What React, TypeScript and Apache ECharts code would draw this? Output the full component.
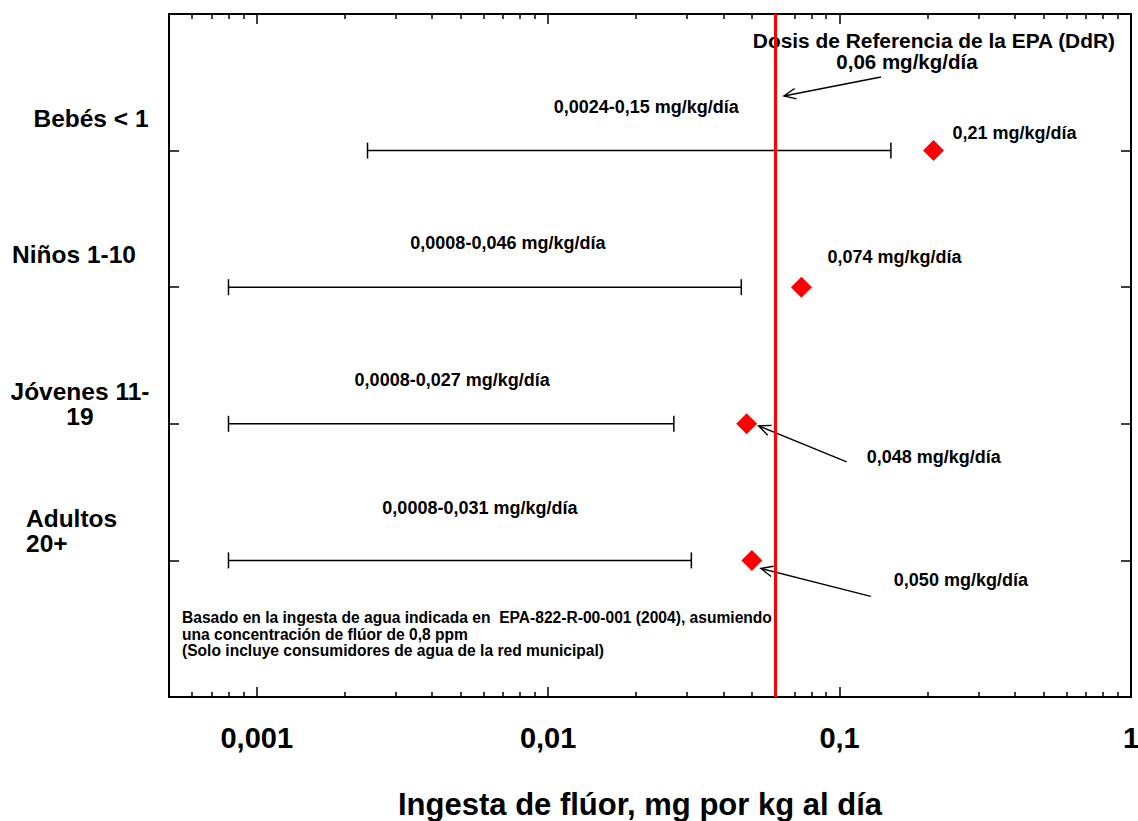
import React, { useEffect, useRef } from 'react';
import * as echarts from 'echarts';

// ---------- data ----------
const categories = ['Bebés < 1', 'Niños 1-10', 'Jóvenes 11-\n19', 'Adultos\n20+'];
const rangeLow = [0.0024, 0.0008, 0.0008, 0.0008];
const rangeHigh = [0.15, 0.046, 0.027, 0.031];
const rangeLabels = [
  '0,0024-0,15 mg/kg/día',
  '0,0008-0,046 mg/kg/día',
  '0,0008-0,027 mg/kg/día',
  '0,0008-0,031 mg/kg/día',
];
const pointValues = [0.21, 0.074, 0.048, 0.05];
const pointLabels = ['0,21 mg/kg/día', '0,074 mg/kg/día', '0,048 mg/kg/día', '0,050 mg/kg/día'];
const referenceDose = 0.06;
const referenceTitle = 'Dosis de Referencia de la EPA (DdR)';
const referenceLabel = '0,06 mg/kg/día';
const xMajorTicks = [0.001, 0.01, 0.1, 1];
const xTickLabels = ['0,001', '0,01', '0,1', '1'];
const xMinorTicks = [
  0.0006, 0.0007, 0.0008, 0.0009,
  0.002, 0.003, 0.004, 0.005, 0.006, 0.007, 0.008, 0.009,
  0.02, 0.03, 0.04, 0.05, 0.06, 0.07, 0.08, 0.09,
  0.2, 0.3, 0.4, 0.5, 0.6, 0.7, 0.8, 0.9,
];
const xAxisTitle = 'Ingesta de flúor, mg por kg al día';
const noteLines = [
  'Basado en la ingesta de agua indicada en  EPA-822-R-00-001 (2004), asumiendo',
  'una concentración de flúor de 0,8 ppm',
  '(Solo incluye consumidores de agua de la red municipal)',
];

// ---------- layout (offsets in px, not data) ----------
const FONT = '"Liberation Sans", Arial, Helvetica, sans-serif';
const rangeLabelOffset = [[17, -44], [23, -44], [1, -44], [20, -52]];
const categoryLabelLayout = [
  { dx: -78, dy: -32, align: 'center' },
  { dx: -95, dy: -32.5, align: 'center' },
  { dx: -89, dy: -20, align: 'center' },
  { dx: -143, dy: -29.5, align: 'left' },
];
const pointLabelLayout: any[] = [
  { dx: 19, dy: -18 },
  { dx: 26, dy: -30 },
  { dx: 120, dy: 33.5, arrow: [100, 38, 12, 2] },
  { dx: 142, dy: 19.5, arrow: [119, 36, 9, 8] },
];

const rowPos = (i: number) => categories.length - i;

function textEl(text: string, x: number, y: number, size: number, align: string, lineHeight?: number) {
  const style: any = {
    text,
    x,
    y,
    font: `bold ${size}px ${FONT}`,
    fill: '#000',
    textFill: '#000',
    align,
    textAlign: align,
    verticalAlign: 'middle',
    textVerticalAlign: 'middle',
  };
  if (lineHeight) {
    style.lineHeight = lineHeight;
    style.textLineHeight = lineHeight;
  }
  return { type: 'text', style };
}

function arrowEls(sx: number, sy: number, tx: number, ty: number) {
  const a = Math.atan2(ty - sy, tx - sx);
  const L = 13;
  const h = 0.42;
  const p1 = [tx - L * Math.cos(a - h), ty - L * Math.sin(a - h)];
  const p2 = [tx - L * Math.cos(a + h), ty - L * Math.sin(a + h)];
  return [
    { type: 'line', shape: { x1: sx, y1: sy, x2: tx, y2: ty }, style: { stroke: '#000', lineWidth: 1.4 } },
    { type: 'polyline', shape: { points: [p1, [tx, ty], p2] }, style: { stroke: '#000', fill: 'none', lineWidth: 1.4 } },
  ];
}

export default function App() {
  const ref = useRef<HTMLDivElement>(null);

  useEffect(() => {
    document.body.style.margin = '0';
    if (!ref.current) return;
    const chart = echarts.init(ref.current, undefined, { renderer: 'svg' });

    const axisLine = { show: true, lineStyle: { color: '#000', width: 2 } };
    const tickLine = { color: '#000', width: 1.5 };
    const rowTicks = categories.map((_, i) => rowPos(i));

    const baseX = {
      type: 'log',
      logBase: 10,
      min: 0.0005,
      max: 1,
      gridIndex: 0,
      splitLine: { show: false },
      minorTick: { show: false },
      minorSplitLine: { show: false },
    };

    const labelFor = (v: number) => {
      let best = 0;
      let bd = Infinity;
      xMajorTicks.forEach((t, i) => {
        const d = Math.abs(Math.log10(v) - Math.log10(t));
        if (d < bd) {
          bd = d;
          best = i;
        }
      });
      return xTickLabels[best];
    };

    const option: any = {
      animation: false,
      backgroundColor: '#fff',
      grid: { left: 169, right: 7, top: 14, bottom: 124, containLabel: false, outerBoundsMode: 'none' },
      xAxis: [
        {
          ...baseX,
          position: 'bottom',
          axisLine,
          axisTick: { show: true, inside: true, length: 10, customValues: xMajorTicks, lineStyle: tickLine },
          axisLabel: {
            show: true,
            customValues: xMajorTicks,
            margin: 26,
            formatter: (v: number) => labelFor(v),
            color: '#000',
            fontSize: 29,
            fontWeight: 'bold',
            fontFamily: FONT,
          },
          name: xAxisTitle,
          nameLocation: 'middle',
          nameGap: 92,
          nameTextStyle: { color: '#000', fontSize: 31, fontWeight: 'bold', fontFamily: FONT, padding: [0, 20, 0, 0] },
        },
        {
          ...baseX,
          position: 'bottom',
          axisLine: { show: false },
          axisTick: { show: true, inside: true, length: 5, customValues: xMinorTicks, lineStyle: tickLine },
          axisLabel: { show: false },
        },
        {
          ...baseX,
          position: 'top',
          axisLine,
          axisTick: { show: true, inside: true, length: 10, customValues: xMajorTicks, lineStyle: tickLine },
          axisLabel: { show: false },
        },
        {
          ...baseX,
          position: 'top',
          axisLine: { show: false },
          axisTick: { show: true, inside: true, length: 5, customValues: xMinorTicks, lineStyle: tickLine },
          axisLabel: { show: false },
        },
      ],
      yAxis: [
        {
          type: 'value',
          min: 0,
          max: 5,
          position: 'left',
          axisLine,
          axisTick: { show: true, inside: true, length: 10, customValues: rowTicks, lineStyle: tickLine },
          axisLabel: { show: false },
          splitLine: { show: false },
        },
        {
          type: 'value',
          min: 0,
          max: 5,
          position: 'right',
          axisLine,
          axisTick: { show: true, inside: true, length: 10, customValues: rowTicks, lineStyle: tickLine },
          axisLabel: { show: false },
          splitLine: { show: false },
        },
      ],
      graphic: [
        {
          type: 'text',
          left: 182,
          top: 609,
          style: {
            text: noteLines.join('\n'),
            font: `bold 15.6px ${FONT}`,
            lineHeight: 16.7,
            fill: '#000',
          },
        },
      ],
      series: [
        {
          type: 'custom',
          name: 'rangos',
          xAxisIndex: 0,
          yAxisIndex: 0,
          z: 2,
          silent: true,
          clip: false,
          encode: { x: [0, 1], y: 2 },
          data: categories.map((_, i) => [rangeLow[i], rangeHigh[i], rowPos(i)]),
          renderItem: (params: any, api: any) => {
            const i = params.dataIndex;
            const y = api.value(2);
            const p0 = api.coord([api.value(0), y]);
            const p1 = api.coord([api.value(1), y]);
            const cs = params.coordSys;
            const midX = (p0[0] + p1[0]) / 2;
            const lo = rangeLabelOffset[i];
            const cl = categoryLabelLayout[i];
            const ls = { stroke: '#000', lineWidth: 1.5 };
            return {
              type: 'group',
              children: [
                { type: 'line', shape: { x1: p0[0], y1: p0[1], x2: p1[0], y2: p1[1] }, style: ls },
                { type: 'line', shape: { x1: p0[0], y1: p0[1] - 8, x2: p0[0], y2: p0[1] + 8 }, style: ls },
                { type: 'line', shape: { x1: p1[0], y1: p1[1] - 8, x2: p1[0], y2: p1[1] + 8 }, style: ls },
                textEl(rangeLabels[i], midX + lo[0], p0[1] + lo[1], 18, 'center'),
                textEl(categories[i], cs.x + cl.dx, p0[1] + cl.dy, 24.5, cl.align, 25),
              ],
            };
          },
        },
        {
          type: 'scatter',
          name: 'ingesta',
          xAxisIndex: 0,
          yAxisIndex: 0,
          z: 3,
          silent: true,
          symbol: 'diamond',
          symbolSize: 21,
          itemStyle: { color: '#ff0000', opacity: 1 },
          data: pointValues.map((v, i) => [v, rowPos(i)]),
          markLine: {
            silent: true,
            symbol: ['none', 'none'],
            label: { show: false },
            lineStyle: { color: '#ff0000', width: 3, type: 'solid', opacity: 1 },
            data: [{ xAxis: referenceDose }],
          },
        },
        {
          type: 'custom',
          name: 'etiquetas',
          xAxisIndex: 0,
          yAxisIndex: 0,
          z: 4,
          silent: true,
          clip: false,
          encode: { x: 0, y: 1 },
          data: pointValues.map((v, i) => [v, rowPos(i)]),
          renderItem: (params: any, api: any) => {
            const i = params.dataIndex;
            const p = api.coord([api.value(0), api.value(1)]);
            const lay = pointLabelLayout[i];
            const children: any[] = [textEl(pointLabels[i], p[0] + lay.dx, p[1] + lay.dy, 18, 'left')];
            if (lay.arrow) {
              const a = lay.arrow;
              children.push(...arrowEls(p[0] + a[0], p[1] + a[1], p[0] + a[2], p[1] + a[3]));
            }
            return { type: 'group', children };
          },
        },
        {
          type: 'custom',
          name: 'DdR',
          xAxisIndex: 0,
          yAxisIndex: 0,
          z: 4,
          silent: true,
          clip: false,
          encode: { x: 0, y: 1 },
          data: [[referenceDose, 5]],
          renderItem: (params: any, api: any) => {
            const p = api.coord([api.value(0), api.value(1)]);
            return {
              type: 'group',
              children: [
                textEl(referenceTitle, p[0] + 159, p[1] + 26, 20.9, 'center'),
                textEl(referenceLabel, p[0] + 132, p[1] + 47.5, 20.5, 'center'),
                ...arrowEls(p[0] + 106, p[1] + 63, p[0] + 9, p[1] + 82),
              ],
            };
          },
        },
      ],
    };

    chart.setOption(option);
    return () => {
      chart.dispose();
    };
  }, []);

  return <div ref={ref} style={{ width: 1138, height: 821 }} />;
}
